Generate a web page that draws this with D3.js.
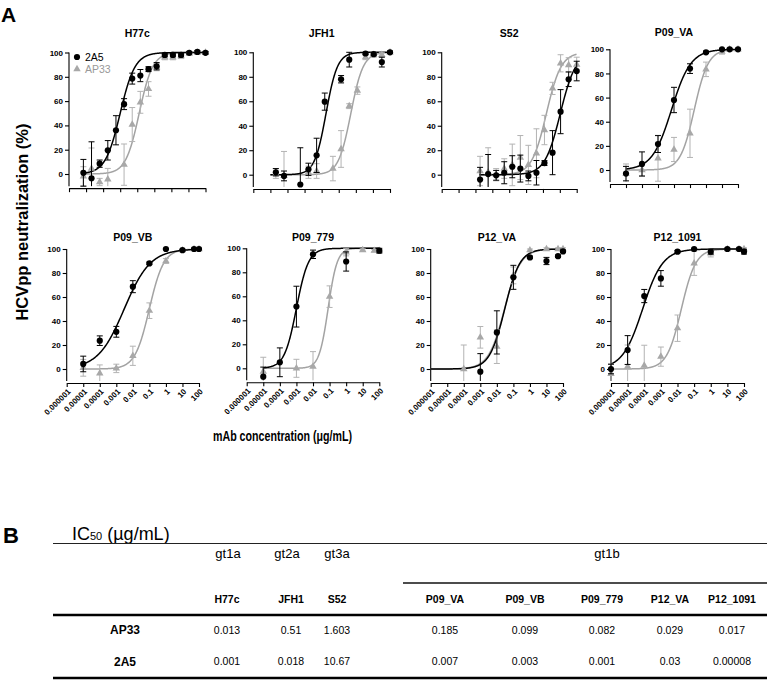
<!DOCTYPE html>
<html>
<head>
<meta charset="utf-8">
<script src="https://cdn.jsdelivr.net/npm/d3@7"></script>
<style>
  html, body { margin: 0; padding: 0; background: #fff; }
  svg { display: block; }
  text { font-family: "Liberation Sans", Arial, sans-serif; }
</style>
</head>
<body>
<script>
// ---------------- DATA ----------------
const panels = ["H77c", "JFH1", "S52", "P09_VA", "P09_VB", "P09_779", "P12_VA", "P12_1091"];
const genotypes = ["gt1a", "gt2a", "gt3a", "gt1b"];
const antibodies = ["2A5", "AP33"];

// IC50 (µg/mL) from the table; also used as the fitted curve midpoints
const ic50AP33 = [0.013, 0.51, 1.603, 0.185, 0.099, 0.082, 0.029, 0.017];
const ic50_2A5 = [0.001, 0.018, 10.67, 0.007, 0.003, 0.001, 0.03, 0.00008];
// Hill slopes of fitted curves
const hill2A5  = [1.0, 1.3, 0.95, 0.72, 0.55, 1.2, 0.95, 0.72];
const hillAP33 = [1.1, 1.2, 1.0, 1.0, 1.0, 1.6, 0.9, 1.0];
// fitted curve x-range start (µg/mL); all curves end at 100
const curveStart = [0.0000069, 0.00001, 0.00017, 0.00001, 0.00001, 0.00001, 0.000001, 0.000001];

const xTickVals = [0.000001, 0.00001, 0.0001, 0.001, 0.01, 0.1, 1, 10, 100];
const xTickLabels = ["0.000001", "0.00001", "0.0001", "0.001", "0.01", "0.1", "1", "10", "100"];
const yTickVals = [0, 20, 40, 60, 80, 100];

// points: [concentration, mean % neutralization, SD]
const H77c_2A5 = [[0.00000697,1,11],[0.0000209,-3.5,30],[0.0000627,8.5,3],[0.000188,19.5,8],[0.000565,36,12],[0.00169,57.5,4.5],[0.00508,78.5,4.5],[0.0152,81,5],[0.0457,86.3,2],[0.137,88.7,3],[0.412,98,1.5],[1.23,98,1.5],[3.70,98,1.5],[11.1,99.7,1],[33.3,100.5,1],[100,99.7,1]];
const H77c_AP33 = [[0.00000697,-2,8],[0.0000209,4.4,17],[0.0000627,-6.6,3],[0.000188,-4.4,9],[0.00169,7.7,17],[0.00508,40.7,14],[0.0152,59,9],[0.0457,70,6],[0.137,88,3],[0.412,96,2],[1.23,96,2],[3.70,97,2],[11.1,99,1],[33.3,100,1],[100,100,1]];
const JFH1_2A5 = [[0.0000209,2,3],[0.0000627,-1,4],[0.000565,-8,30],[0.00169,4.4,5],[0.00508,15.8,14],[0.0152,59.7,7],[0.137,78,3],[0.412,94,6],[3.70,99,1],[11.1,98.5,1],[33.3,92,4],[100,100,1]];
const JFH1_AP33 = [[0.0000209,1,4],[0.0000627,-1,20],[0.00169,2,5],[0.00508,3,6],[0.0457,5,10],[0.137,21,15],[0.412,56,2],[1.23,68.7,3],[3.70,96,2],[11.1,98,2],[33.3,98,2],[100,100,1]];
const S52_2A5 = [[0.000188,-4,10],[0.000565,0.5,16],[0.00169,-0.5,4],[0.00508,1.6,9],[0.0152,6.5,9],[0.0457,5,11],[0.137,-1,4],[0.412,1.6,10],[1.23,9.5,2],[3.70,18,18],[11.1,51.5,18],[33.3,78,6],[100,84.7,8]];
const S52_AP33 = [[0.000188,3,12],[0.000565,2,20],[0.00169,0,5],[0.00508,5,8],[0.0152,8,17],[0.0457,14,18],[0.137,8,16],[0.412,17.5,20],[1.23,36.5,12],[3.70,70.5,5],[11.1,91,7],[33.3,89.6,6],[100,90,6]];
const P09VA_2A5 = [[0.00001,-3,6],[0.0001,5,10],[0.001,21.5,7],[0.01,58,10.5],[0.1,84,4],[1,97.5,1],[10,100,0.5],[30,100,0.5],[100,100,0.5]];
const P09VA_AP33 = [[0.00001,-3,8],[0.0001,0,5],[0.001,9.7,19],[0.01,17,10],[0.1,30.4,20],[1,83.4,6],[10,98,2],[30,100,1],[100,100,1]];
const P09VB_2A5 = [[0.00001,4.2,6.5],[0.0001,23.6,4],[0.001,31,4.5],[0.01,68.6,5],[0.1,88,1],[1,100,0.5],[10,99,0.5],[50,100,0.5],[100,100,0.5]];
const P09VB_AP33 = [[0.00001,1,7],[0.0001,-3.6,7],[0.001,0.5,3.5],[0.01,11,8],[0.1,48.6,6.5],[1,90,2],[10,99,1],[50,100,1],[100,100,1]];
const P09779_2A5 = [[0.00001,-7,8],[0.0001,5,12],[0.001,51.4,17],[0.01,95,3.5],[1,89,8],[100,98,2]];
const P09779_AP33 = [[0.00001,-2.8,12],[0.001,0,7.5],[0.01,1.4,12.5],[0.1,59.7,9],[1,96.7,3],[10,98.6,1],[50,98,1],[100,98,1]];
const P12VA_2A5 = [[0.001,-2.2,15],[0.01,30.5,18],[0.1,76.4,10],[1,93,1],[10,90,3],[50,94,1],[100,98,1]];
const P12VA_AP33 = [[0.0001,0,20],[0.001,26.4,9],[0.01,18.6,14],[0.1,78,7],[1,99,1],[10,100,1],[50,100,1],[100,100,1]];
const P121091_2A5 = [[0.000001,0,4],[0.00001,15.8,12],[0.0001,60.8,5.5],[0.001,75.5,6.5],[0.01,97.8,1],[0.1,100,0.5],[1,97.8,2],[10,100,0.5],[50,100,0.5],[100,97.8,2]];
const P121091_AP33 = [[0.000001,-4,8],[0.00001,2,18],[0.0001,2.8,17],[0.001,10.3,8],[0.01,34,11],[0.1,88,10],[1,96.4,3],[10,100,1],[50,100,1],[100,100,1]];

const series2A5 = [H77c_2A5, JFH1_2A5, S52_2A5, P09VA_2A5, P09VB_2A5, P09779_2A5, P12VA_2A5, P121091_2A5];
const seriesAP33 = [H77c_AP33, JFH1_AP33, S52_AP33, P09VA_AP33, P09VB_AP33, P09779_AP33, P12VA_AP33, P121091_AP33];

// ---------------- LAYOUT ----------------
const W = 767, H = 681;
const FONT = '"Liberation Sans", Arial, sans-serif';
const layout = [
  {x0: 69,    x1: 205.5, yT: 52.5, yB: 174,   ty: 37,  row: 0},
  {x0: 253.3, x1: 390,   yT: 52.3, yB: 174.7, ty: 37,  row: 0},
  {x0: 441.7, x1: 576.7, yT: 52.3, yB: 174.7, ty: 37,  row: 0},
  {x0: 610,   x1: 738,   yT: 49.3, yB: 170,   ty: 36,  row: 0},
  {x0: 66.7,  x1: 199,   yT: 249,  yB: 369,   ty: 241, row: 1},
  {x0: 246.7, x1: 379.3, yT: 248.3, yB: 368.3, ty: 241, row: 1},
  {x0: 430.7, x1: 563,   yT: 249,  yB: 369,   ty: 241, row: 1},
  {x0: 611,   x1: 744,   yT: 249,  yB: 369,   ty: 241, row: 1}
];
const BLACK = "#000";
const GRAY_PT = "#a8a8a8", GRAY_LINE = "#a3a3a3", GRAY_ERR = "#b3b3b3";

const svg = d3.select("body").append("svg").attr("width", W).attr("height", H);

svg.append("text").attr("x", 1).attr("y", 22).attr("font-size", 21).attr("font-weight", "bold").text("A");

panels.forEach((name, i) => {
  const L = layout[i];
  const g = svg.append("g");
  const x = d3.scaleLog().domain([1e-6, 100]).range([L.x0, L.x1]);
  const y = d3.scaleLinear().domain([0, 100]).range([L.yB, L.yT]);
  const yMin = -10;

  // title
  g.append("text").attr("x", (L.x0 + L.x1) / 2).attr("y", L.ty)
    .attr("text-anchor", "middle").attr("font-size", 10.5).attr("font-weight", "bold").text(name);

  // y axis
  const ya = g.append("g").attr("transform", `translate(${L.x0},0)`)
    .call(d3.axisLeft(y).tickValues(yTickVals).tickSize(4).tickPadding(2).tickSizeOuter(0));
  ya.select(".domain").remove();
  ya.append("line").attr("x1", 0).attr("x2", 0).attr("y1", y(100)).attr("y2", y(yMin))
    .attr("stroke", BLACK).attr("stroke-width", 1.1);
  ya.selectAll(".tick line").attr("stroke-width", 1.1);
  ya.selectAll("text").attr("font-family", FONT).attr("font-size", 8).attr("font-weight", "bold").attr("fill", BLACK);

  // x axis
  const axY = y(yMin) + 2;
  const xa = g.append("g").attr("transform", `translate(0,${axY})`)
    .call(d3.axisBottom(x).tickValues(xTickVals).tickSize(4).tickSizeOuter(0)
      .tickFormat((d, j) => L.row === 1 ? xTickLabels[j] : ""));
  xa.select(".domain").attr("stroke-width", 1.1);
  xa.selectAll(".tick line").attr("stroke-width", 1.1);
  xa.selectAll("text")
    .attr("font-family", FONT).attr("font-size", 8).attr("font-weight", "bold").attr("fill", BLACK)
    .attr("text-anchor", "end").attr("y", null).attr("x", null).attr("dy", "0.35em")
    .attr("transform", "translate(2,7) rotate(-45)");

  // fitted curves
  const line = d3.line().x(d => x(d[0])).y(d => y(d[1]));
  const logs = d3.range(Math.log10(curveStart[i]), 2.0001, 0.02);
  const fit = (ic, h) => logs.map(l => { const c = Math.pow(10, l); return [c, 100 / (1 + Math.pow(ic / c, h))]; });
  g.append("path").datum(fit(ic50AP33[i], hillAP33[i])).attr("d", line)
    .attr("fill", "none").attr("stroke", GRAY_LINE).attr("stroke-width", 1.5);
  g.append("path").datum(fit(ic50_2A5[i], hill2A5[i])).attr("d", line)
    .attr("fill", "none").attr("stroke", BLACK).attr("stroke-width", 1.5);

  // error bars + points
  function drawSeries(data, color, errColor, isTri) {
    const eg = g.append("g").attr("stroke", errColor).attr("stroke-width", 1);
    data.forEach(([c, m, sd]) => {
      const cx = x(c);
      const lo = Math.max(m - sd, yMin), hi = m + sd;
      eg.append("line").attr("x1", cx).attr("x2", cx).attr("y1", y(lo)).attr("y2", y(hi));
      eg.append("line").attr("x1", cx - 3).attr("x2", cx + 3).attr("y1", y(hi)).attr("y2", y(hi));
      if (m - sd >= yMin) eg.append("line").attr("x1", cx - 3).attr("x2", cx + 3).attr("y1", y(lo)).attr("y2", y(lo));
    });
    if (isTri) {
      g.append("g").selectAll("path").data(data).join("path")
        .attr("d", d3.symbol(d3.symbolTriangle, 24))
        .attr("transform", d => `translate(${x(d[0])},${y(d[1])})`)
        .attr("fill", color);
    } else {
      g.append("g").selectAll("circle").data(data).join("circle")
        .attr("cx", d => x(d[0])).attr("cy", d => y(d[1])).attr("r", 3.1).attr("fill", color);
    }
  }
  drawSeries(seriesAP33[i], GRAY_PT, GRAY_ERR, true);
  drawSeries(series2A5[i], BLACK, BLACK, false);

  // legend in first panel
  if (i === 0) {
    const lg = g.append("g");
    lg.append("circle").attr("cx", L.x0 + 8).attr("cy", 57).attr("r", 3.1).attr("fill", BLACK);
    lg.append("text").attr("x", L.x0 + 16).attr("y", 57).attr("dy", "0.35em").attr("font-size", 10.5).text(antibodies[0]);
    lg.append("path").attr("d", d3.symbol(d3.symbolTriangle, 24)).attr("transform", `translate(${L.x0 + 8},69)`).attr("fill", GRAY_PT);
    lg.append("text").attr("x", L.x0 + 16).attr("y", 69.5).attr("dy", "0.35em").attr("font-size", 10.5).attr("fill", "#999").text(antibodies[1]);
  }
});

// axis titles
svg.append("text").attr("transform", "translate(28,222) rotate(-90)").attr("text-anchor", "middle")
  .attr("font-size", 16.5).attr("font-weight", "bold").text("HCVpp neutralization (%)");
svg.append("text").attr("x", 213).attr("y", 441).attr("font-size", 14).attr("font-weight", "bold")
  .attr("textLength", 139).attr("lengthAdjust", "spacingAndGlyphs").text("mAb concentration (\u03bcg/mL)");

// ---------------- TABLE (B) ----------------
svg.append("text").attr("x", 3).attr("y", 543).attr("font-size", 22).attr("font-weight", "bold").text("B");
const ic = svg.append("text").attr("x", 72).attr("y", 540).attr("font-size", 18);
ic.append("tspan").text("IC");
ic.append("tspan").attr("font-size", 11).text("50");
ic.append("tspan").text(" (\u00b5g/mL)");

const tableX = [227, 291, 337, 445, 525, 602, 670, 732];
const genoX = [228, 287, 337, 607];
const rowLabelX = 125;

svg.append("line").attr("x1", 53).attr("x2", 767).attr("y1", 543.5).attr("y2", 543.5).attr("stroke", "#222").attr("stroke-width", 1);
svg.append("line").attr("x1", 403).attr("x2", 767).attr("y1", 583).attr("y2", 583).attr("stroke", "#111").attr("stroke-width", 1.6);
svg.append("line").attr("x1", 53).attr("x2", 767).attr("y1", 615).attr("y2", 615).attr("stroke", "#000").attr("stroke-width", 2.6);
svg.append("line").attr("x1", 53).attr("x2", 767).attr("y1", 678).attr("y2", 678).attr("stroke", "#000").attr("stroke-width", 2.6);

genotypes.forEach((gname, k) => {
  svg.append("text").attr("x", genoX[k]).attr("y", 553).attr("dy", "0.35em").attr("text-anchor", "middle")
    .attr("font-size", 13).text(gname);
});
panels.forEach((p, k) => {
  svg.append("text").attr("x", tableX[k]).attr("y", 599.5).attr("dy", "0.35em").attr("text-anchor", "middle")
    .attr("font-size", 10.5).attr("font-weight", "bold").text(p);
  svg.append("text").attr("x", tableX[k]).attr("y", 630).attr("dy", "0.35em").attr("text-anchor", "middle")
    .attr("font-size", 10.5).text(String(ic50AP33[k]));
  svg.append("text").attr("x", tableX[k]).attr("y", 661.5).attr("dy", "0.35em").attr("text-anchor", "middle")
    .attr("font-size", 10.5).text(String(ic50_2A5[k]));
});
svg.append("text").attr("x", rowLabelX).attr("y", 630).attr("dy", "0.35em").attr("text-anchor", "middle")
  .attr("font-size", 12).attr("font-weight", "bold").text(antibodies[1]);
svg.append("text").attr("x", rowLabelX).attr("y", 661.5).attr("dy", "0.35em").attr("text-anchor", "middle")
  .attr("font-size", 12).attr("font-weight", "bold").text(antibodies[0]);
</script>
</body>
</html>
